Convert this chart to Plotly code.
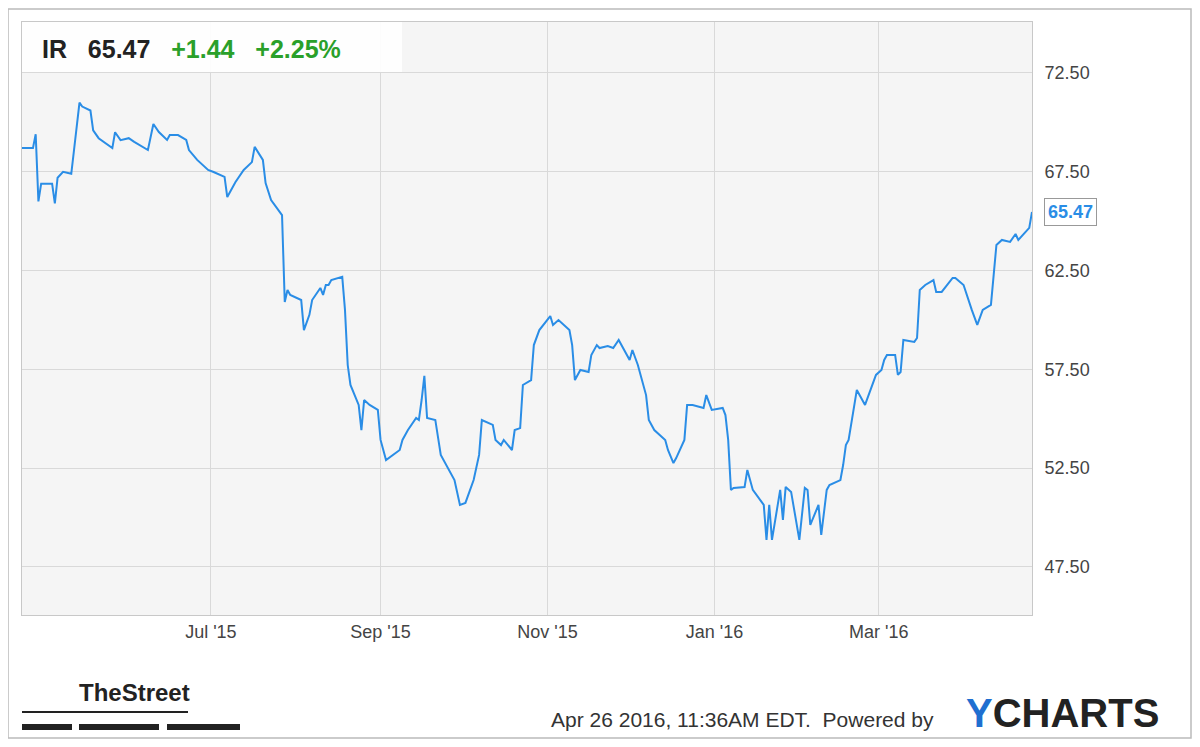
import plotly.graph_objects as go

dates = ["2015-04-23","2015-04-27","2015-04-28","2015-04-29","2015-04-30","2015-05-04","2015-05-05","2015-05-06","2015-05-08","2015-05-11","2015-05-12","2015-05-14","2015-05-15","2015-05-18","2015-05-19","2015-05-21","2015-05-26","2015-05-27","2015-05-29","2015-06-01",
"2015-06-03","2015-06-08","2015-06-10","2015-06-12","2015-06-15","2015-06-16","2015-06-19","2015-06-22","2015-06-23","2015-06-26","2015-06-30",
"2015-07-02","2015-07-06","2015-07-07","2015-07-10","2015-07-13","2015-07-16","2015-07-17","2015-07-20","2015-07-21","2015-07-23","2015-07-27","2015-07-28","2015-07-29","2015-07-30",
"2015-08-03","2015-08-04","2015-08-06","2015-08-07","2015-08-10","2015-08-11","2015-08-12","2015-08-13","2015-08-14","2015-08-18","2015-08-19","2015-08-20","2015-08-21","2015-08-24","2015-08-25","2015-08-26","2015-08-28","2015-08-31",
"2015-09-01","2015-09-03","2015-09-08","2015-09-09","2015-09-11","2015-09-14","2015-09-15","2015-09-16","2015-09-17","2015-09-18","2015-09-21","2015-09-23","2015-09-25","2015-09-28",
"2015-09-30","2015-10-02","2015-10-05","2015-10-07","2015-10-08","2015-10-12","2015-10-13","2015-10-15","2015-10-16","2015-10-19","2015-10-20","2015-10-22","2015-10-23","2015-10-26","2015-10-27","2015-10-29",
"2015-11-02","2015-11-03","2015-11-05","2015-11-09","2015-11-10","2015-11-11","2015-11-13","2015-11-16","2015-11-17","2015-11-19","2015-11-20","2015-11-23","2015-11-25","2015-11-27",
"2015-12-01","2015-12-02","2015-12-04","2015-12-07","2015-12-08","2015-12-10","2015-12-14","2015-12-15","2015-12-17","2015-12-18","2015-12-21","2015-12-22","2015-12-24","2015-12-28","2015-12-29","2015-12-31",
"2016-01-04","2016-01-05","2016-01-06","2016-01-07","2016-01-08","2016-01-12","2016-01-13","2016-01-14","2016-01-15","2016-01-19","2016-01-20","2016-01-21","2016-01-22","2016-01-25","2016-01-26","2016-01-27","2016-01-29",
"2016-02-01","2016-02-03","2016-02-04","2016-02-05","2016-02-08","2016-02-09","2016-02-11","2016-02-12","2016-02-16","2016-02-17","2016-02-18","2016-02-19","2016-02-22","2016-02-23","2016-02-25","2016-02-29",
"2016-03-02","2016-03-03","2016-03-04","2016-03-07","2016-03-08","2016-03-09","2016-03-10","2016-03-14","2016-03-15","2016-03-16","2016-03-18","2016-03-21","2016-03-22","2016-03-24","2016-03-28","2016-03-29",
"2016-04-01","2016-04-04","2016-04-06","2016-04-08","2016-04-11","2016-04-12","2016-04-13","2016-04-15","2016-04-18","2016-04-20","2016-04-21","2016-04-25","2016-04-26"]

prices = [68.7,68.7,69.4,66.0,66.9,66.9,65.9,67.2,67.5,67.4,68.6,71.0,70.8,70.6,69.6,69.2,68.7,69.5,69.1,69.2,
69.01,68.60,69.92,69.51,69.11,69.36,69.36,69.11,68.60,68.10,67.59,
67.49,67.24,66.22,66.98,67.59,67.99,68.76,68.10,66.93,66.07,65.31,60.91,61.52,61.27,
61.01,59.49,60.26,61.01,61.62,61.27,61.77,61.77,62.02,62.18,60.51,57.72,56.71,55.70,54.43,55.95,55.70,55.45,
53.93,52.91,53.42,53.93,54.43,55.04,54.94,55.95,57.17,55.04,54.94,53.17,52.66,51.90,
50.64,50.74,51.90,53.17,54.94,54.69,53.93,53.67,53.93,53.42,54.43,54.53,56.71,56.96,58.73,59.49,
60.20,59.75,60.00,59.49,58.73,56.96,57.47,57.37,58.23,58.73,58.58,58.68,58.58,58.99,
57.98,58.48,57.72,56.20,54.94,54.43,53.93,53.42,52.76,53.01,53.93,55.70,55.70,55.55,56.20,55.45,
55.55,55.19,53.93,51.40,51.50,51.55,52.41,51.90,51.40,50.64,48.87,50.64,48.87,51.40,49.88,51.55,51.30,
48.87,51.50,51.40,49.63,50.64,49.12,51.40,51.65,51.90,52.66,53.67,53.93,56.46,56.20,55.70,57.22,
57.47,57.98,58.23,58.23,57.22,57.37,58.99,58.89,59.09,61.52,61.77,62.02,61.42,61.42,62.13,62.13,
61.77,60.51,59.75,60.51,60.76,62.28,63.80,64.05,63.95,64.35,64.05,64.66,65.47]

tick_vals = ["2015-07-01","2015-09-01","2015-11-01","2016-01-01","2016-03-01"]
tick_text = ["Jul '15","Sep '15","Nov '15","Jan '16","Mar '16"]
y_ticks = [47.5,52.5,57.5,62.5,67.5,72.5]
y_text = ["47.50","52.50","57.50","62.50","67.50","72.50"]

blue = "#2a8de6"
W, H = 1010, 593
fig = go.Figure(go.Scatter(x=dates, y=prices, mode="lines", line=dict(color=blue, width=2), hoverinfo="skip"))

fig.update_layout(
    width=1184, height=731, paper_bgcolor="white", plot_bgcolor="#f5f5f5",
    margin=dict(l=14, r=160, t=14, b=124), showlegend=False,
    font=dict(family="Arial, Liberation Sans", color="#444"),
    xaxis=dict(range=["2015-04-23","2016-04-26"], tickvals=tick_vals, ticktext=tick_text,
               showgrid=True, gridcolor="#d9d9d9", gridwidth=1, ticks="", tickfont=dict(size=18, color="#444"),
               showline=True, linecolor="#c8c8c8", mirror=True, zeroline=False),
    yaxis=dict(range=[45.07,75.08], side="right", tickvals=y_ticks, ticktext=y_text,
               showgrid=True, gridcolor="#d9d9d9", tickfont=dict(size=18, color="#444"),
               showline=True, linecolor="#c8c8c8", mirror=True, zeroline=False, ticklen=8, ticks="outside", tickcolor="rgba(0,0,0,0)"),
    shapes=[
        dict(type="rect", xref="paper", yref="paper", x0=-14/W, x1=1169/W, y0=-123/H, y1=1+13/H,
             line=dict(color="#bbb", width=1.5), fillcolor="rgba(0,0,0,0)"),
        dict(type="rect", xref="paper", yref="paper", x0=0, x1=380/W, y0=1-50/H, y1=1,
             line=dict(width=0), fillcolor="white", opacity=0.9, layer="above"),
        dict(type="line", xref="paper", yref="paper", x0=0, x1=166/W, y0=-97/H, y1=-97/H, line=dict(color="#222", width=2)),
        dict(type="line", xref="paper", yref="paper", x0=0, x1=50/W, y0=-112/H, y1=-112/H, line=dict(color="#222", width=6)),
        dict(type="line", xref="paper", yref="paper", x0=57/W, x1=137/W, y0=-112/H, y1=-112/H, line=dict(color="#222", width=6)),
        dict(type="line", xref="paper", yref="paper", x0=145/W, x1=218/W, y0=-112/H, y1=-112/H, line=dict(color="#222", width=6)),
    ],
    annotations=[
        dict(xref="paper", yref="paper", x=18/W, y=1-27/H, xanchor="left", yanchor="middle", showarrow=False,
             text="<b>IR</b>   <b>65.47</b>   <b><span style='color:#2aa02a'>+1.44</span></b>   <b><span style='color:#2aa02a'>+2.25%</span></b>",
             font=dict(size=25, color="#222")),
        dict(xref="paper", y=prices[-1], x=1.012, xanchor="left", yanchor="middle", showarrow=False, yref="y",
             text="<b>65.47</b>", font=dict(size=18, color=blue), bgcolor="white", bordercolor="#999", borderwidth=1, borderpad=3),
        dict(xref="paper", yref="paper", x=55/W, y=-77/H, xanchor="left", yanchor="middle", showarrow=False,
             text="<b>TheStreet</b>", font=dict(size=24, color="#222", family="Liberation Sans Narrow, Arial Narrow, Liberation Sans")),
        dict(xref="paper", yref="paper", x=527/W, y=-104/H, xanchor="left", yanchor="middle", showarrow=False,
             text="Apr 26 2016, 11:36AM EDT.  Powered by", font=dict(size=21, color="#333")),
        dict(xref="paper", yref="paper", x=942/W, y=-98/H, xanchor="left", yanchor="middle", showarrow=False,
             text="<b><span style='color:#1f6fd0'>Y</span>CHARTS</b>", font=dict(size=40, color="#222")),
    ],
)
fig.write_html("out.html")
